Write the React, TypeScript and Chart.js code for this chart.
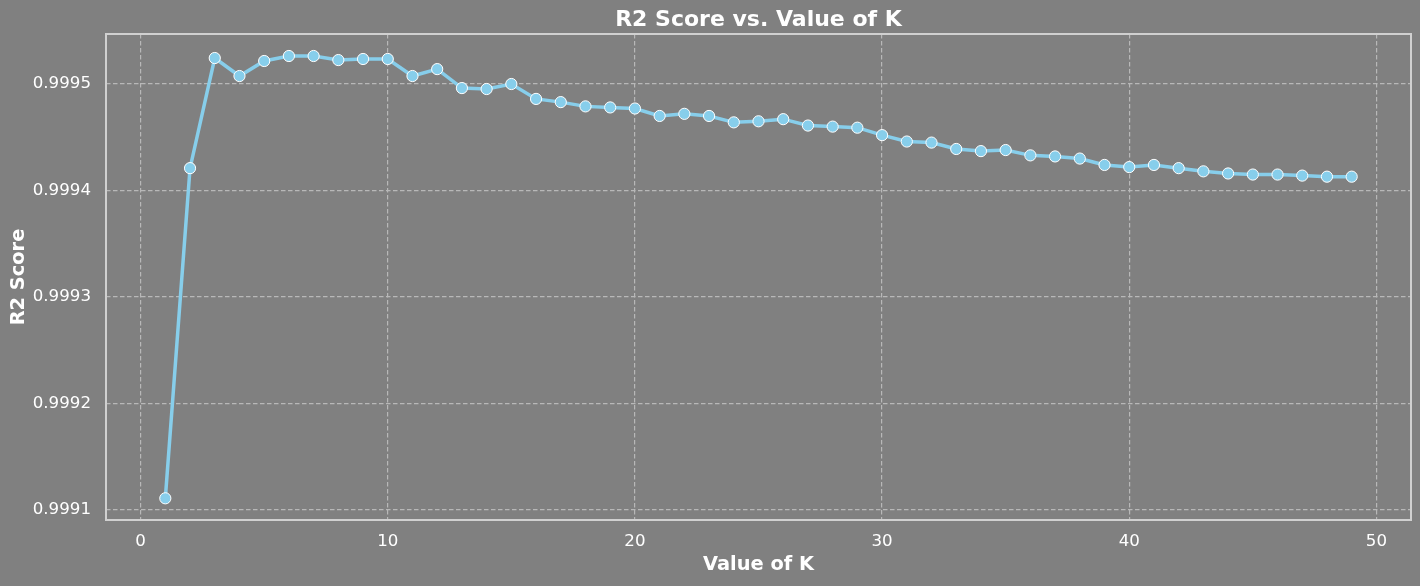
import React, { useEffect, useRef } from "react";
import { Chart, registerables } from "chart.js";

Chart.register(...registerables);

const kValues = [
  1, 2, 3, 4, 5, 6, 7, 8, 9, 10, 11, 12, 13, 14, 15, 16, 17, 18, 19, 20, 21, 22, 23, 24, 25,
  26, 27, 28, 29, 30, 31, 32, 33, 34, 35, 36, 37, 38, 39, 40, 41, 42, 43, 44, 45, 46, 47, 48, 49,
];

const r2Scores = [
  0.999111, 0.999421, 0.9995244, 0.9995075, 0.9995216, 0.9995263, 0.9995263, 0.9995225,
  0.9995235, 0.9995235, 0.9995075, 0.999514, 0.9994962, 0.9994953, 0.9995, 0.999486,
  0.999483, 0.999479, 0.999478, 0.999477, 0.99947, 0.999472, 0.99947, 0.999464, 0.999465,
  0.999467, 0.999461, 0.99946, 0.999459, 0.999452, 0.999446, 0.999445, 0.999439, 0.999437,
  0.999438, 0.999433, 0.999432, 0.99943, 0.999424, 0.999422, 0.999424, 0.999421, 0.999418,
  0.999416, 0.999415, 0.999415, 0.999414, 0.999413, 0.999413,
];

const xTicks = [0, 10, 20, 30, 40, 50];
const yTicks = [0.9991, 0.9992, 0.9993, 0.9994, 0.9995];

const titleText = "R2 Score vs. Value of K";
const xLabel = "Value of K";
const yLabel = "R2 Score";

const FONT = "'DejaVu Sans', sans-serif";

export default function App() {
  const ref = useRef<HTMLCanvasElement | null>(null);

  useEffect(() => {
    if (!ref.current) return;
    const bgPlugin = {
      id: "bgAndFrame",
      beforeDraw(chart: any) {
        const { ctx, width, height } = chart;
        ctx.save();
        ctx.fillStyle = "#808080";
        ctx.fillRect(0, 0, width, height);
        ctx.restore();
      },
      afterDraw(chart: any) {
        const { ctx, chartArea } = chart;
        ctx.save();
        ctx.strokeStyle = "#d0d0d0";
        ctx.lineWidth = 2;
        ctx.strokeRect(chartArea.left, chartArea.top, chartArea.right - chartArea.left, chartArea.bottom - chartArea.top);
        ctx.fillStyle = "#ffffff";
        ctx.font = `bold 22px ${FONT}`;
        ctx.textAlign = "center";
        ctx.textBaseline = "alphabetic";
        ctx.fillText(titleText, (chartArea.left + chartArea.right) / 2, 26);
        ctx.restore();
      },
    };

    const chart = new Chart(ref.current, {
      type: "line",
      data: {
        datasets: [
          {
            data: kValues.map((k, i) => ({ x: k, y: r2Scores[i] })),
            borderColor: "#87CEEB",
            backgroundColor: "#87CEEB",
            borderWidth: 3.5,
            pointRadius: 5.6,
            pointBorderWidth: 1,
            pointBorderColor: "#ffffff",
            pointBackgroundColor: "#87CEEB",
            tension: 0,
          },
        ],
      },
      options: {
        responsive: false,
        animation: false,
        devicePixelRatio: 1,
        layout: { padding: { top: 34, right: 9, left: 0, bottom: 0 } },
        plugins: {
          legend: { display: false },
          title: { display: false },
          tooltip: { enabled: false },
        },
        scales: {
          x: {
            type: "linear",
            min: -1.4,
            max: 51.4,
            afterBuildTicks: (scale: any) => {
              scale.ticks = xTicks.map((v) => ({ value: v }));
            },
            afterFit: (scale: any) => {
              scale.height = 66;
            },
            grid: {
              color: "#b8b8b8",
              lineWidth: 1.2,
              drawTicks: false,
            },
            border: { display: false, dash: [4.5, 2.5] },
            ticks: {
              color: "#ffffff",
              font: { family: FONT, size: 16.67 },
              padding: 12,
              maxRotation: 0,
              callback: (v: any) => String(v),
            },
            title: {
              display: true,
              text: xLabel,
              color: "#ffffff",
              font: { family: FONT, size: 19.4, weight: "bold" },
              padding: { top: 0, bottom: 9 },
            },
          },
          y: {
            type: "linear",
            min: 0.99909063,
            max: 0.99954696,
            afterBuildTicks: (scale: any) => {
              scale.ticks = yTicks.map((v) => ({ value: v }));
            },
            afterFit: (scale: any) => {
              scale.width = 106;
            },
            grid: {
              color: "#b8b8b8",
              lineWidth: 1.2,
              drawTicks: false,
            },
            border: { display: false, dash: [4.5, 2.5] },
            ticks: {
              color: "#ffffff",
              font: { family: FONT, size: 16.67 },
              padding: 15,
              callback: (v: any) => Number(v).toFixed(4),
            },
            title: {
              display: true,
              text: yLabel,
              color: "#ffffff",
              font: { family: FONT, size: 19.4, weight: "bold" },
              padding: { top: 7, bottom: 0 },
            },
          },
        },
      },
      plugins: [bgPlugin],
    } as any);
    return () => chart.destroy();
  }, []);

  return (
    <div style={{ position: "absolute", left: 0, top: 0, width: 1420, height: 586, background: "#808080" }}>
      <canvas ref={ref} width={1420} height={586} style={{ display: "block" }} />
    </div>
  );
}
